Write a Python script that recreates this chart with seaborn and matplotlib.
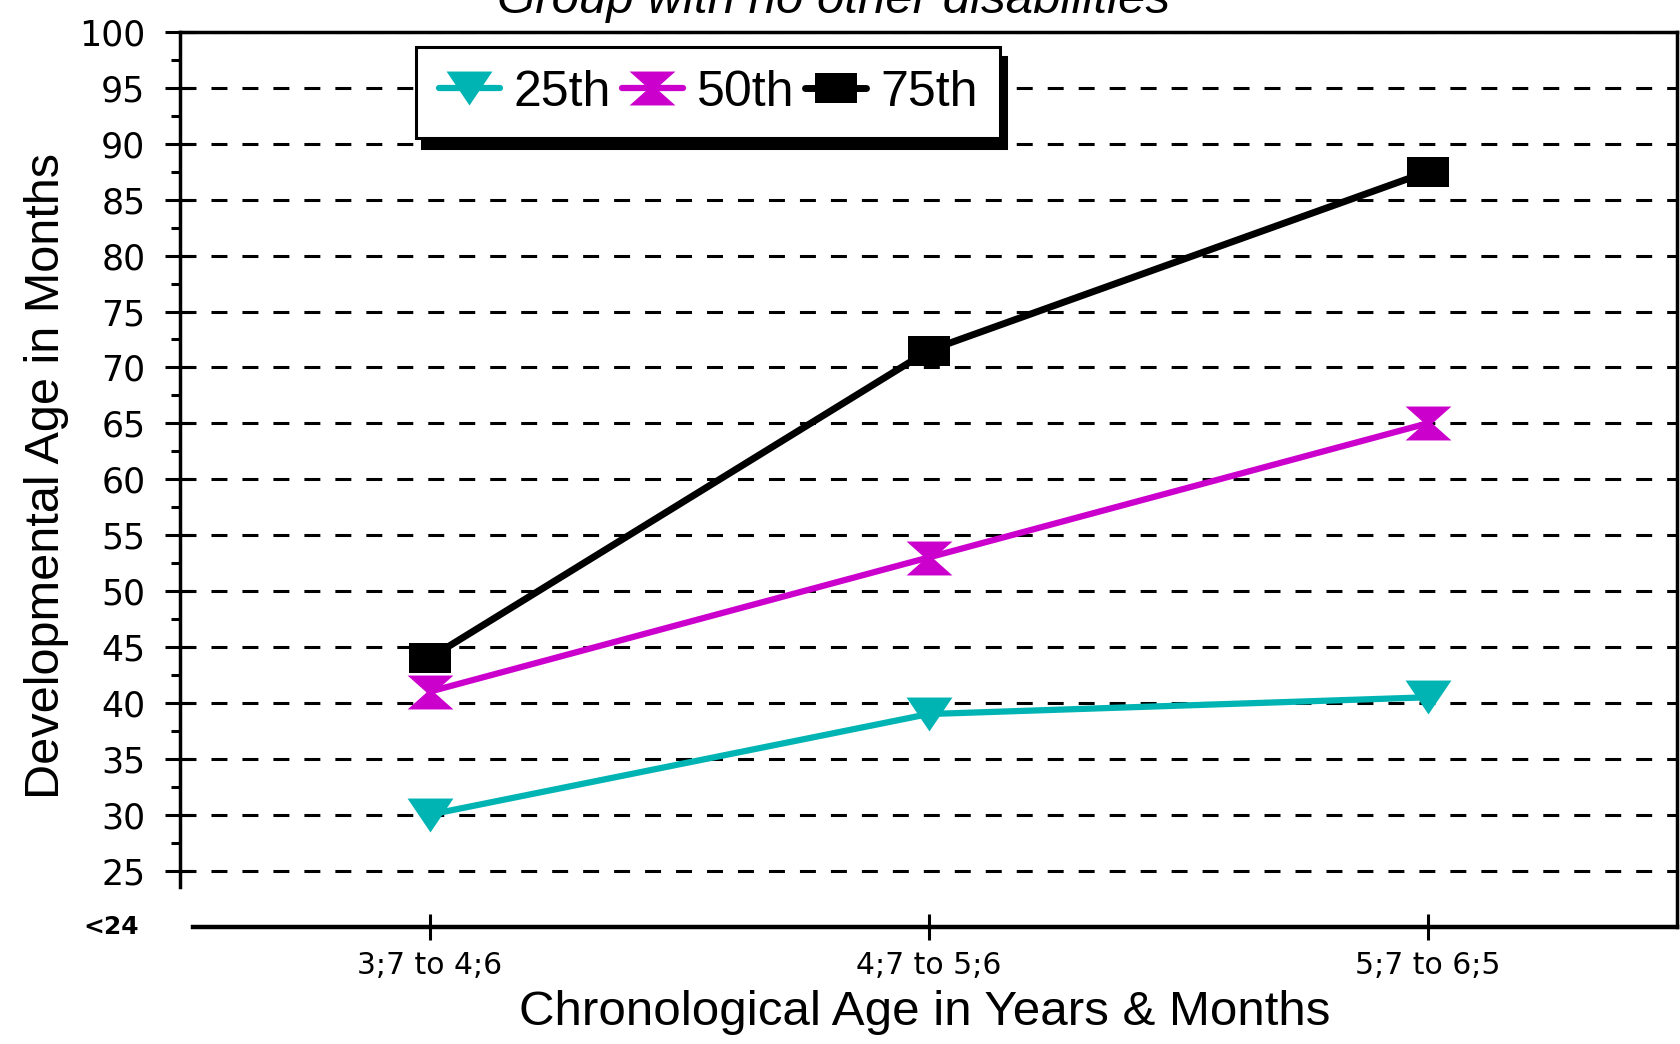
import matplotlib
matplotlib.use("Agg")
import matplotlib.pyplot as plt
from matplotlib.path import Path
from matplotlib.markers import MarkerStyle
import numpy as np
import pandas as pd
import seaborn as sns

# ---- data ----
categories = ["3;7 to 4;6", "4;7 to 5;6", "5;7 to 6;5"]
series_names = ["25th", "50th", "75th"]
p25 = [30, 39, 40.5]
p50 = [41, 53, 65]
p75 = [44, 71.5, 87.5]
y_ticks = [25, 30, 35, 40, 45, 50, 55, 60, 65, 70, 75, 80, 85, 90, 95, 100]
title = "Group with no other disabilities"
xlabel = "Chronological Age in Years & Months"
ylabel = "Developmental Age in Months"

df = pd.DataFrame({
    "Age": categories * 3,
    "Value": p25 + p50 + p75,
    "Percentile": [s for s in series_names for _ in categories],
})

sns.set_theme(style="white")
plt.rcParams["font.family"] = ["Liberation Sans", "DejaVu Sans"]
for k in ["text.color", "axes.labelcolor", "xtick.color", "ytick.color", "axes.edgecolor"]:
    plt.rcParams[k] = "black"

W, H = 1680, 1044
fig, ax = plt.subplots(figsize=(W / 100, H / 100), dpi=100)
fig.subplots_adjust(left=180 / W, right=1677 / W, top=1 - 32 / H, bottom=1 - 926.5 / H)

# custom markers
tri = Path([(-1, 0.74), (1, 0.74), (0, -0.74), (-1, 0.74)],
           [Path.MOVETO, Path.LINETO, Path.LINETO, Path.CLOSEPOLY])
hour = Path([(-1, 0.74), (1, 0.74), (0.17, 0), (1, -0.74), (-1, -0.74), (-0.17, 0), (-1, 0.74)],
            [Path.MOVETO] + [Path.LINETO] * 5 + [Path.CLOSEPOLY])
sq = Path([(-1, -0.71), (1, -0.71), (1, 0.71), (-1, 0.71), (-1, -0.71)],
          [Path.MOVETO] + [Path.LINETO] * 3 + [Path.CLOSEPOLY])

palette = {"25th": "#00B4B4", "50th": "#CC00CC", "75th": "#000000"}
markers = {"25th": MarkerStyle(tri), "50th": MarkerStyle(hour), "75th": MarkerStyle(sq)}

sns.lineplot(data=df, x="Age", y="Value", hue="Percentile", style="Percentile",
             hue_order=series_names, style_order=series_names,
             palette=palette, markers=markers, dashes=False, sort=False,
             linewidth=4.5, markersize=33, markeredgewidth=0, legend=False, ax=ax, zorder=3)

lines = ax.get_lines()[:3]
lines[2].set_markersize(30)
lines[2].set_linewidth(5)
for ln in lines:
    ln.set_markeredgewidth(0)

# axes limits / ticks
ax.set_xlim(-0.5, 2.5)
ax.set_ylim(20, 100)
ax.set_yticks(y_ticks)
ax.set_yticklabels([str(v) for v in y_ticks], fontfamily="DejaVu Sans", fontsize=25)
ax.set_yticks(np.arange(27.5, 100, 5), minor=True)
ax.tick_params(axis="y", which="major", direction="inout", length=22, width=2.2, pad=14, left=True)
ax.tick_params(axis="y", which="minor", direction="out", length=6.5, width=2.2, left=True)
ax.set_xticks(range(len(categories)))
ax.set_xticklabels(categories, fontfamily="DejaVu Sans", fontsize=21.5)
ax.tick_params(axis="x", which="major", direction="inout", length=19, width=2.2, pad=8, bottom=True)

# "<24" label at axis base
ax.text(139 / W, 20, "<24", transform=matplotlib.transforms.blended_transform_factory(fig.transFigure, ax.transData),
        ha="right", va="center", fontsize=18, fontfamily="DejaVu Sans", fontweight="bold")

# spines
for s in ["left", "right", "top", "bottom"]:
    ax.spines[s].set_visible(True)
    ax.spines[s].set_color("black")
    ax.spines[s].set_linewidth(2.5)
ax.spines["bottom"].set_linewidth(3.2)
ax.spines["left"].set_bounds(23.5, 100)
ax.spines["bottom"].set_bounds(-0.474, 2.5)

# dashed gridlines
lw_grid = 2.2
ax.yaxis.grid(True, which="major", color="black", linewidth=lw_grid,
              linestyle=(0, (11.5 / lw_grid, 10.8 / lw_grid)))
ax.xaxis.grid(False)
ax.set_axisbelow(True)

# labels
ax.set_xlabel(xlabel, fontsize=35.5, va="center")
ax.xaxis.set_label_coords(0.4977, -0.0967)
ax.set_ylabel(ylabel, fontsize=35, va="center")
ax.yaxis.set_label_coords((47 - 180) / 1497, 0.504)

fig.text(834 / W, 1 - 13 / H, title, ha="center", va="baseline", fontsize=35.5, style="italic")

# legend
leg = ax.legend(lines, series_names, loc="upper left",
                bbox_to_anchor=(416 / W, 1 - 47 / H), bbox_transform=fig.transFigure,
                borderaxespad=0, ncol=3, fontsize=36, handlelength=1.22,
                handletextpad=0.28, columnspacing=0.22, borderpad=0.45,
                frameon=True, fancybox=False, framealpha=1,
                shadow={"ox": 4, "oy": -7, "color": "black", "alpha": 1})
leg.get_frame().set_edgecolor("black")
leg.get_frame().set_linewidth(2.2)
leg.set_zorder(5)

fig.savefig("out.png", dpi=100)
